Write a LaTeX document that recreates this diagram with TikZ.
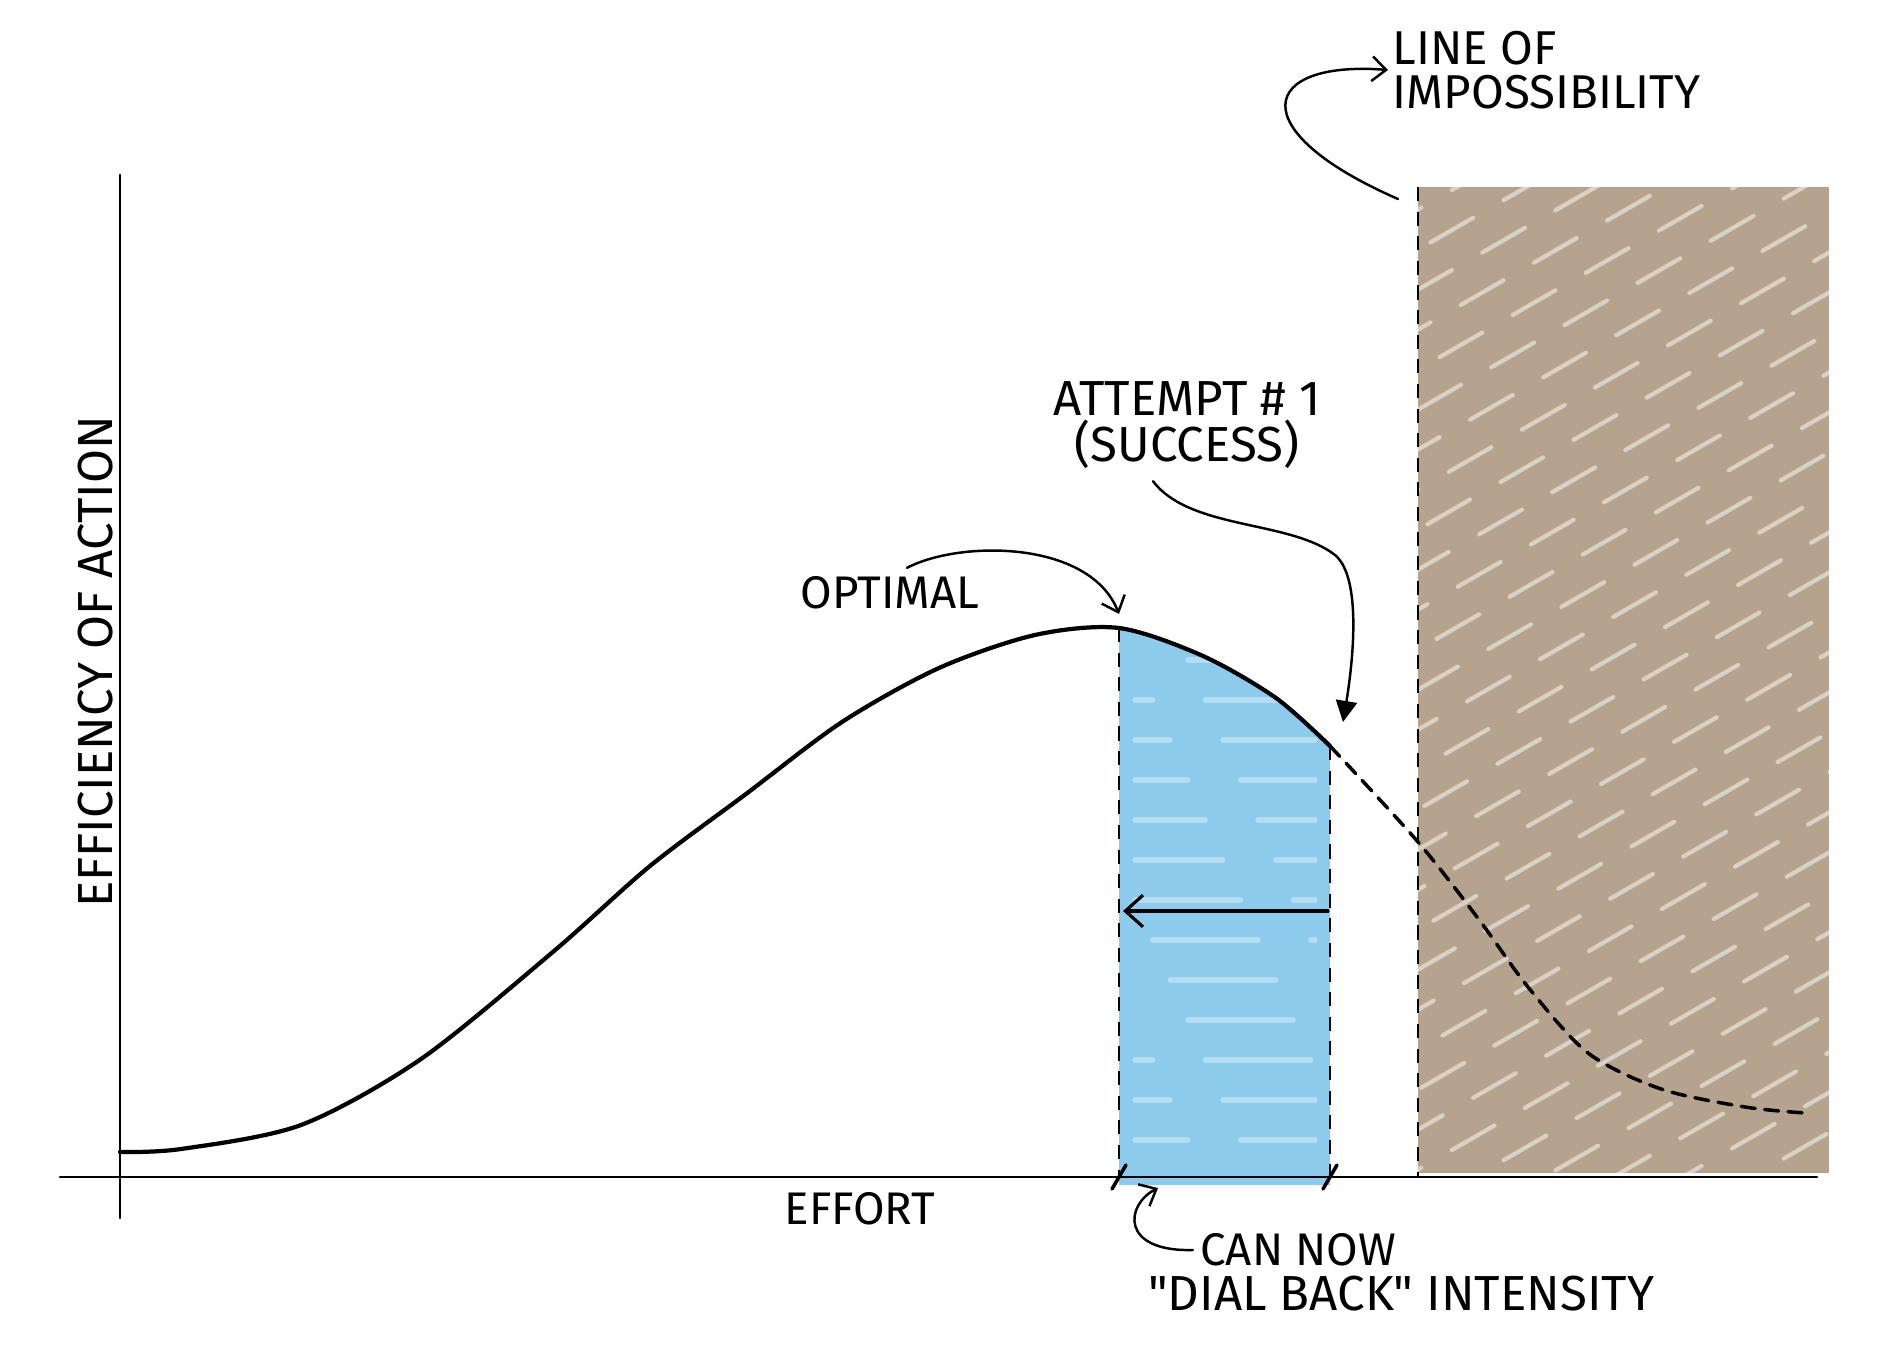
\documentclass[tikz,border=0pt]{standalone}
\usepackage{fontspec}
\setmainfont{Fira Sans}
\usetikzlibrary{arrows.meta}
\definecolor{markerblue}{RGB}{141,203,236}
\definecolor{markerbrown}{RGB}{182,163,142}
\tikzset{every node/.style={inner sep=1pt, font=\fontsize{13}{12.5}\selectfont},
  curve/.style={line width=1.2pt},
  guide/.style={line width=0.6pt, dash pattern=on 4pt off 3pt, line cap=butt},
  pointer/.style={line width=0.7pt, -{Straight Barb[length=4pt,width=7pt]}}}

\begin{document}
\begin{tikzpicture}[x=0.01cm,y=-0.01cm,line width=0.75pt,line cap=round]
  \useasboundingbox (0,0) rectangle (1887,1349);
  \coordinate (origin) at (120,1177);
  \coordinate (peak) at (1119,628);
  \coordinate (attempted) at (1330,746);
  \coordinate (walltop) at (1418,187);
  \begin{scope}
   \clip (walltop) rectangle (1829,1173);
   \fill[markerbrown] (walltop) rectangle (1829,1173);
   \foreach \i in {0,...,31}
    \draw[white, opacity=0.5, line width=1.2pt, dash pattern=on 14pt off 10pt, dash phase=\i*7pt] (1400,180+\i*40) -- +(520,-300);
  \end{scope}
  \begin{scope}
   \clip (1119,1185) -- plot[smooth] coordinates {(1119,628) (1203,656) (1276,698) (1330,746)} -- (1330,1185) -- cycle;
   \fill[markerblue] (1100,600) rectangle (1340,1190);
   \foreach \y in {660,700,...,1160}
    \draw[white, opacity=0.35, line width=1.5pt, dash pattern=on 30pt off 15pt, dash phase=\y pt] (1135,\y) -- (1315,\y);
  \end{scope}
  \draw (120,175) -- (120,1218);
  \draw (60,1177) -- (1817,1177);
  \draw[guide] (peak) -- (peak |- origin);
  \draw[guide] (attempted) -- (attempted |- origin);
  \draw[guide] (walltop) -- (walltop |- origin);
  \draw[line width=1pt] (1112,1189) -- (1126,1165);
  \draw[line width=1pt] (1323,1189) -- (1337,1165);
  \draw[curve] plot[smooth] coordinates {(120,1152) (181,1149) (301,1125) (421,1059) (554,951) (650,866) (746,794) (842,722) (939,668) (1035,635) (1119,628) (1203,656) (1276,698) (1330,746)};
  \draw[curve, line width=1pt, dash pattern=on 4pt off 2.7pt] plot[smooth] coordinates {(1330,746) (1418,842) (1480,921) (1528,987) (1588,1053) (1661,1089) (1745,1107) (1805,1113)};
  \coordinate (dialfrom) at (1328,911);
  \coordinate (dialto) at (1123,911);
  \draw[line width=0.9pt, -{Straight Barb[length=5pt,width=9pt]}] (dialfrom) -- (dialto);

  \node[rotate=90, font=\fontsize{14}{14}\selectfont] (efficiency) at (96,662) {EFFICIENCY OF ACTION};
  \node (effort) at (860,1209) {EFFORT};
  \node (optimal) at (890,593) {OPTIMAL};
  \node[align=center, font=\fontsize{14}{13}\selectfont] (attempt) at (1187,425) {ATTEMPT \# 1\\(SUCCESS)};
  \node[anchor=west, align=left, font=\fontsize{13.5}{12.5}\selectfont] (impossible) at (1388,70) {LINE OF\\IMPOSSIBILITY};
  \node[anchor=west, inner sep=0pt] (cannow) at (1199,1250) {CAN NOW};
  \node[anchor=west, inner sep=0pt, font=\fontsize{14}{14}\selectfont] (dialback) at (1147,1294) {\textquotedbl DIAL BACK\textquotedbl\ INTENSITY};

  \draw[pointer] (optimal.north) ++(17,-4) .. controls (960,540) and (1090,540) .. ([yshift=0.14cm]peak);
  \coordinate (attempttip) at (1343,722);
  \draw[line width=0.7pt, -{Triangle[length=6pt,width=6pt]}] (attempt.south) ++(-34,8) .. controls (1190,530) and (1290,520) .. (1335,555) .. controls (1365,580) and (1350,680) .. (attempttip);
  \draw[pointer] (walltop) ++(-20,12) .. controls (1240,130) and (1260,60) .. (impossible.west);
  \coordinate (bluefoot) at (1158,1188);
  \draw[pointer] ([xshift=-0.06cm]cannow.west) .. controls (1120,1252) and (1125,1205) .. (bluefoot);
\end{tikzpicture}
\end{document}
